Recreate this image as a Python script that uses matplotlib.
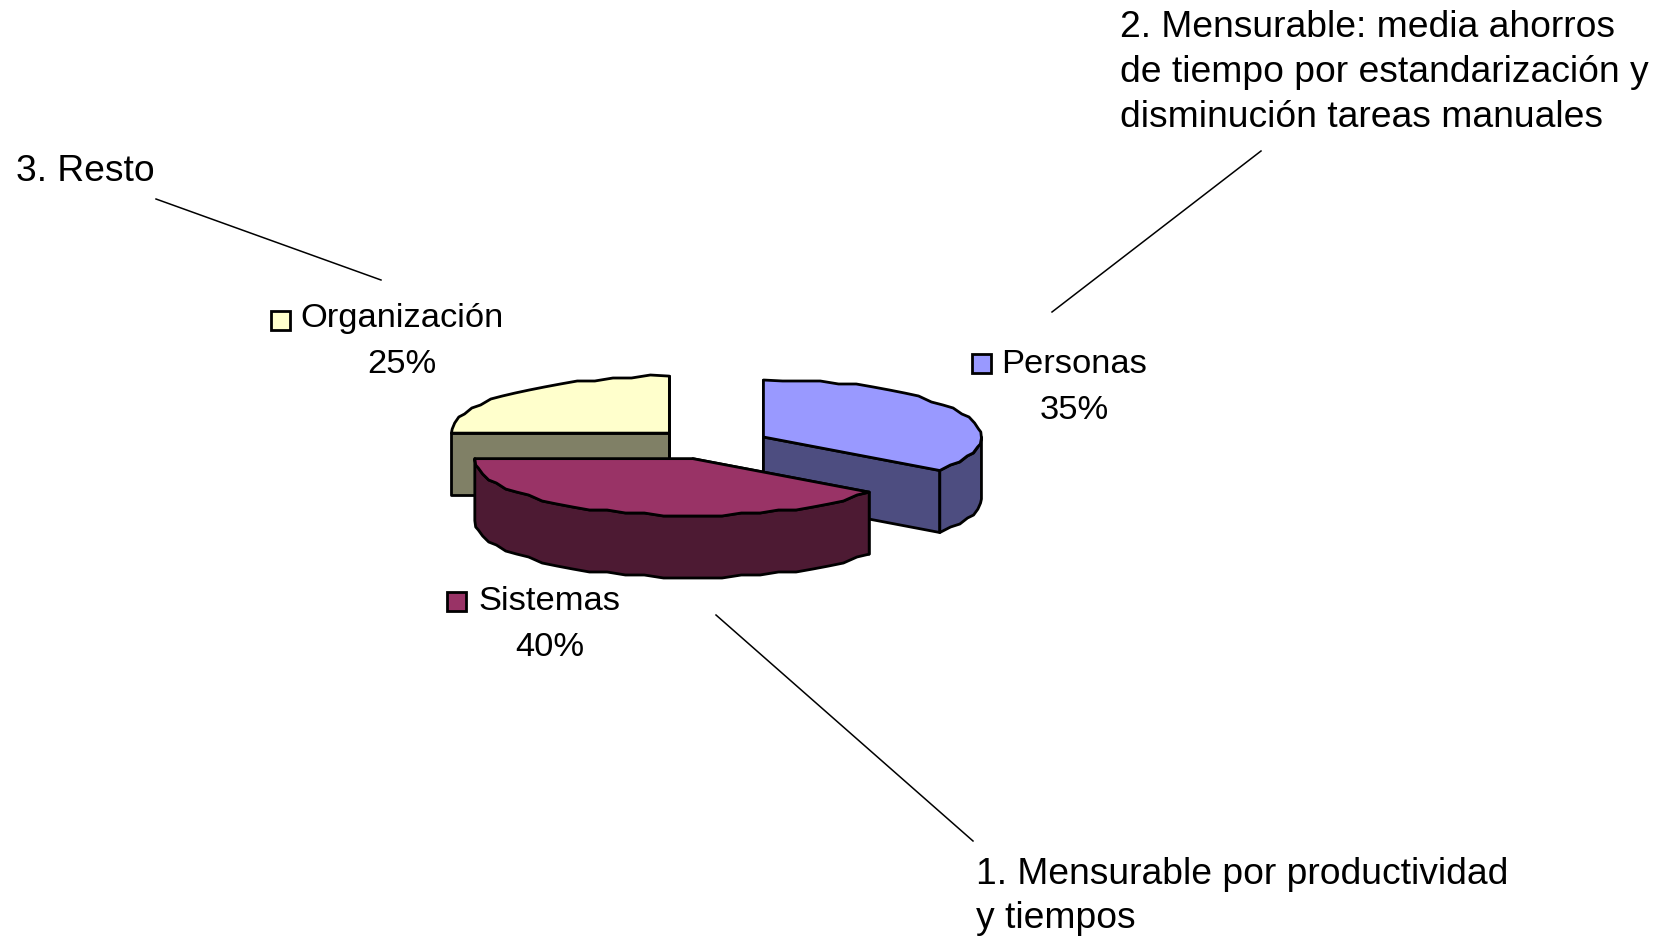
import numpy as np
import matplotlib
matplotlib.use('Agg')
import matplotlib.pyplot as plt
from matplotlib.patches import Polygon, Rectangle

plt.rcParams['font.family'] = ['Liberation Sans', 'DejaVu Sans']

# --------------------------------------------------------------------------------------------------
# data

categories = ['Organización', 'Personas', 'Sistemas']
values = [25, 35, 40]
top_colors = ['#FFFFCC', '#9999FF', '#993366']
side_colors = ['#808066', '#4D4D80', '#4D1A33']

notes = [
    ['3. Resto'],
    ['2. Mensurable: media ahorros', 'de tiempo por estandarización y', 'disminución tareas manuales'],
    ['1. Mensurable por productividad', 'y tiempos'],
]

# --------------------------------------------------------------------------------------------------
# layout, in pixels of the picture

W, H = 1661, 936
cx, cy = 711, 444
rx, ry = 218, 57
depth = 62
explode = 0.27
start_angle = -90
lw = 2.0

label_pos = [(401.5, 327), (1074.5, 373), (549.5, 610)]
key_pos = [(271, 311), (972, 354), (447, 592)]
key_size = 19
label_gap = 46
note_pos = [(16, 181), (1119.5, 37), (976, 883.5)]
note_gap = 45
leader_from = [(156, 199), (1261, 151), (716, 615)]
leader_to = [(381, 280), (1052, 312), (973, 841)]

# --------------------------------------------------------------------------------------------------

def rim(a, b, center):
    # points along the ellipse, angles clockwise from 12 o'clock
    n = max(int(abs(b-a)/5), 1)
    t = np.radians(np.linspace(a, b, n+1))
    x = center[0] + rx*np.sin(t)
    y = center[1] - ry*np.cos(t)
    # the original has a coarse, stepped outline
    y[1:-1] = np.round(y[1:-1]/3)*3
    return np.column_stack([x, y])


def add_poly(ax, pts, color):
    ax.add_patch(Polygon(pts, closed=True, facecolor=color, edgecolor='k',
                         linewidth=lw, joinstyle='round'))


def plot_wedge(ax, a, b, top, side):
    mid = np.radians((a+b)/2)
    center = np.array([cx + explode*rx*np.sin(mid), cy - explode*ry*np.cos(mid)])
    down = np.array([0, depth])

    # cut faces first, the rim and the top paint over the hidden ones
    for ang in [a, b]:
        p = rim(ang, ang, center)[0]
        add_poly(ax, [center, p, p+down, center+down], side)

    # outer wall, only the part facing the viewer
    lo, hi = max(a, 90), min(b, 270)
    if hi > lo:
        arc = rim(lo, hi, center)
        add_poly(ax, np.vstack([arc, arc[::-1]+down]), side)

    add_poly(ax, np.vstack([center, rim(a, b, center)]), top)


fig = plt.figure(figsize=(W/100, H/100), dpi=100)
ax = fig.add_axes([0, 0, 1, 1])
ax.set_xlim(0, W)
ax.set_ylim(H, 0)
ax.axis('off')

edges = start_angle + np.cumsum([0]+values)*3.6
for i in range(len(values)):
    plot_wedge(ax, edges[i], edges[i+1], top_colors[i], side_colors[i])

# data labels with their legend keys
for i, name in enumerate(categories):
    x, y = label_pos[i]
    ax.text(x, y, name, fontsize=24.8, ha='center', va='baseline')
    ax.text(x, y+label_gap, f'{values[i]}%', fontsize=24.8, ha='center', va='baseline')
    kx, ky = key_pos[i]
    ax.add_patch(Rectangle((kx, ky), key_size, key_size, facecolor=top_colors[i],
                           edgecolor='k', linewidth=lw))

# notes and their leader lines
for i, lines in enumerate(notes):
    x, y = note_pos[i]
    for j, line in enumerate(lines):
        ax.text(x, y+j*note_gap, line, fontsize=26.8, ha='left', va='baseline')
    ax.plot([leader_from[i][0], leader_to[i][0]], [leader_from[i][1], leader_to[i][1]],
            color='k', linewidth=1.1)

fig.savefig('out.png', dpi=100, facecolor='white')
